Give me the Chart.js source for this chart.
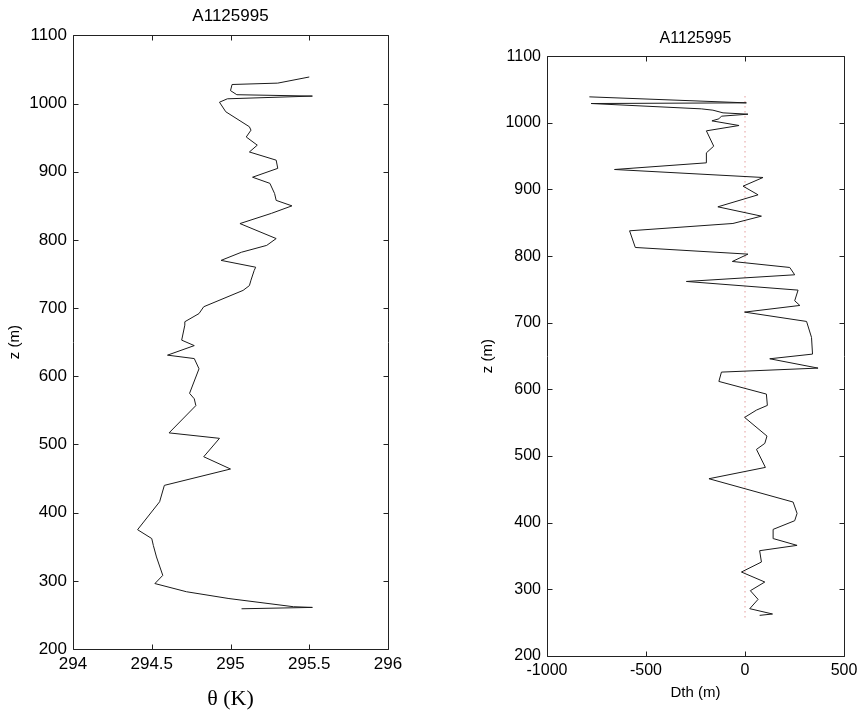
<!DOCTYPE html>
<html>
<head>
<meta charset="utf-8">
<script src="https://cdn.jsdelivr.net/npm/chart.js@4/dist/chart.umd.min.js"></script>
<style>
  body { margin: 0; background: #fff; width: 861px; height: 715px; position: relative; overflow: hidden; }
  canvas { position: absolute; top: 0; }
  #thetaChart { left: 0; }
  #dthChart { left: 470px; }
</style>
</head>
<body>
<canvas id="thetaChart" width="420" height="715"></canvas>
<canvas id="dthChart" width="391" height="715"></canvas>
<script>
// profile A1125995, values, bottom to top
const profileName = 'A1125995'

const thetaValues = [295.07, 295.52, 295.40, 294.99, 294.72, 294.52, 294.57, 294.53, 294.51, 294.50,
  294.41, 294.55, 294.58, 295.00, 294.83, 294.93, 294.61, 294.78, 294.77, 294.74,
  294.80, 294.77, 294.60, 294.77, 294.69, 294.71, 294.71, 294.80, 294.83, 295.08,
  295.12, 295.13, 295.15, 295.16, 294.94, 295.07, 295.23, 295.29, 295.06, 295.26,
  295.39, 295.29, 295.28, 295.25, 295.14, 295.30, 295.29, 295.12, 295.17, 295.10,
  295.13, 295.12, 294.97, 294.93, 294.98, 295.52, 295.04, 295.00, 295.01, 295.30, 295.50]
const thetaZ = [259, 261, 262, 274, 284, 296, 308, 335, 352, 362,
  375, 416, 440, 464, 482, 509, 517, 557, 567, 575,
  611, 626, 631, 645, 653, 675, 680, 692, 702, 726,
  733, 741, 755, 760, 770, 782, 792, 802, 824, 839,
  850, 858, 868, 883, 892, 905, 917, 929, 939, 951,
  961, 966, 988, 1002, 1007, 1011, 1013, 1019, 1028, 1030, 1039]

const dthValues = [74, 139, 24, 66, 27, 100, -18, 83, 74, 263,
  145, 142, 251, 263, 243, -182, 103, 58, 100, 111,
  -2, 58, 113, 108, -132, -119, 369, 125, 341, 336,
  311, -2, 277, 251, 268, -296, 251, 226, -64, 15,
  -554, -583, -61, 83, -137, 66, -10, 91, -659, -195,
  -195, -158, -195, -30, -167, -132, -119, 15, -111, -162,
  -221, -777, 7, -786]
const dthZ = [261, 263, 271, 285, 298, 311, 326, 341, 358, 366,
  376, 390, 403, 414, 431, 466, 483, 510, 519, 530,
  558, 569, 576, 593, 612, 626, 632, 646, 653, 678,
  702, 716, 726, 733, 749, 762, 772, 783, 792, 803,
  813, 838, 849, 860, 874, 892, 905, 918, 930, 940,
  955, 965, 988, 996, 1003, 1006, 1010, 1013, 1015, 1019,
  1021, 1029, 1030, 1039]

// zero reference line on the Dth panel
const zeroLineX = [0, 0]
const zeroLineZ = [258, 1045]

const zTicks = [200, 300, 400, 500, 600, 700, 800, 900, 1000, 1100]
const thetaTicks = [294, 294.5, 295, 295.5, 296]
const dthTicks = [-1000, -500, 0, 500]

const sansFont = 'Arial, "Liberation Sans", sans-serif'
const toPoints = (xs, ys) => xs.map((x, i) => ({ x: x, y: ys[i] }))

// matlab style box with inward tick marks
const boxTicks = {
  id: 'boxTicks',
  afterDatasetsDraw(chart) {
    const { ctx, chartArea: a, scales } = chart
    const l = Math.round(a.left) + 0.5, r = Math.round(a.right) + 0.5
    const t = Math.round(a.top) + 0.5, b = Math.round(a.bottom) + 0.5
    const len = 5
    ctx.save()
    ctx.strokeStyle = '#222'
    ctx.lineWidth = 1
    ctx.beginPath()
    ctx.rect(l, t, r - l, b - t)
    scales.x.ticks.forEach((tk) => {
      const px = Math.round(scales.x.getPixelForValue(tk.value)) + 0.5
      ctx.moveTo(px, b); ctx.lineTo(px, b - len)
      ctx.moveTo(px, t); ctx.lineTo(px, t + len)
    })
    scales.y.ticks.forEach((tk) => {
      const py = Math.round(scales.y.getPixelForValue(tk.value)) + 0.5
      ctx.moveTo(l, py); ctx.lineTo(l + len, py)
      ctx.moveTo(r, py); ctx.lineTo(r - len, py)
    })
    ctx.stroke()
    ctx.restore()
  }
}

function makeAxes(opt) {
  return {
    x: {
      type: 'linear',
      min: opt.xTicks[0],
      max: opt.xTicks[opt.xTicks.length - 1],
      grid: { display: false, drawTicks: false },
      border: { display: false },
      afterBuildTicks: (scale) => { scale.ticks = opt.xTicks.map((v) => ({ value: v })) },
      afterFit: (scale) => { scale.height = opt.xHeight; scale.paddingLeft = 0; scale.paddingRight = 0 },
      ticks: {
        color: '#000', padding: opt.xTickPad, maxRotation: 0,
        font: { family: sansFont, size: opt.tickSize },
        callback: (v) => String(v)
      },
      title: { display: true, text: opt.xTitle, color: '#000', font: opt.xTitleFont, padding: { top: 0, bottom: opt.xTitlePad } }
    },
    y: {
      type: 'linear',
      min: 200,
      max: 1100,
      grid: { display: false, drawTicks: false },
      border: { display: false },
      afterBuildTicks: (scale) => { scale.ticks = zTicks.map((v) => ({ value: v })) },
      afterFit: (scale) => { scale.width = opt.yWidth; scale.paddingTop = 0; scale.paddingBottom = 0 },
      ticks: {
        color: '#000', padding: 6,
        font: { family: sansFont, size: opt.tickSize },
        callback: (v) => String(v)
      },
      title: { display: true, text: 'z (m)', color: '#000', font: { family: sansFont, size: 15 }, padding: { top: opt.yTitlePad, bottom: 0 } }
    }
  }
}

function makeChart(id, datasets, opt) {
  const ctx = document.getElementById(id)
  return new Chart(ctx, {
    type: 'scatter',
    data: { datasets: datasets },
    options: {
      responsive: false,
      animation: false,
      layout: { padding: { left: 0, right: opt.padRight, top: 0, bottom: 0 } },
      plugins: {
        legend: { display: false },
        tooltip: { enabled: false },
        title: {
          display: true, text: profileName, color: '#000', fullSize: false,
          font: { family: sansFont, size: opt.titleSize, weight: 'normal' },
          padding: opt.titlePad
        }
      },
      scales: makeAxes(opt)
    },
    plugins: [boxTicks]
  })
}

const profileLine = { showLine: true, pointRadius: 0, borderColor: '#1a1a1a', borderWidth: 1, tension: 0 }

makeChart('thetaChart', [
  Object.assign({ data: toPoints(thetaValues, thetaZ) }, profileLine)
], {
  xTicks: thetaTicks, xTitle: 'θ (K)',
  xTitleFont: { family: '"Liberation Serif", "Times New Roman", serif', size: 22 },
  xTitlePad: 3, xHeight: 66, xTickPad: 5,
  yWidth: 73, yTitlePad: 6, tickSize: 17,
  titleSize: 17, titlePad: { top: 6, bottom: 9 }, padRight: 32
})

makeChart('dthChart', [
  Object.assign({ data: toPoints(dthValues, dthZ) }, profileLine),
  {
    data: toPoints(zeroLineX, zeroLineZ), showLine: true, pointRadius: 0,
    borderColor: 'rgba(205, 70, 70, 0.8)', borderWidth: 1, borderDash: [1, 4]
  }
], {
  xTicks: dthTicks, xTitle: 'Dth (m)',
  xTitleFont: { family: sansFont, size: 15 },
  xTitlePad: 13, xHeight: 59, xTickPad: 5,
  yWidth: 77, yTitlePad: 9, tickSize: 16,
  titleSize: 16, titlePad: { top: 29, bottom: 8 }, padRight: 17
})
</script>
</body>
</html>
